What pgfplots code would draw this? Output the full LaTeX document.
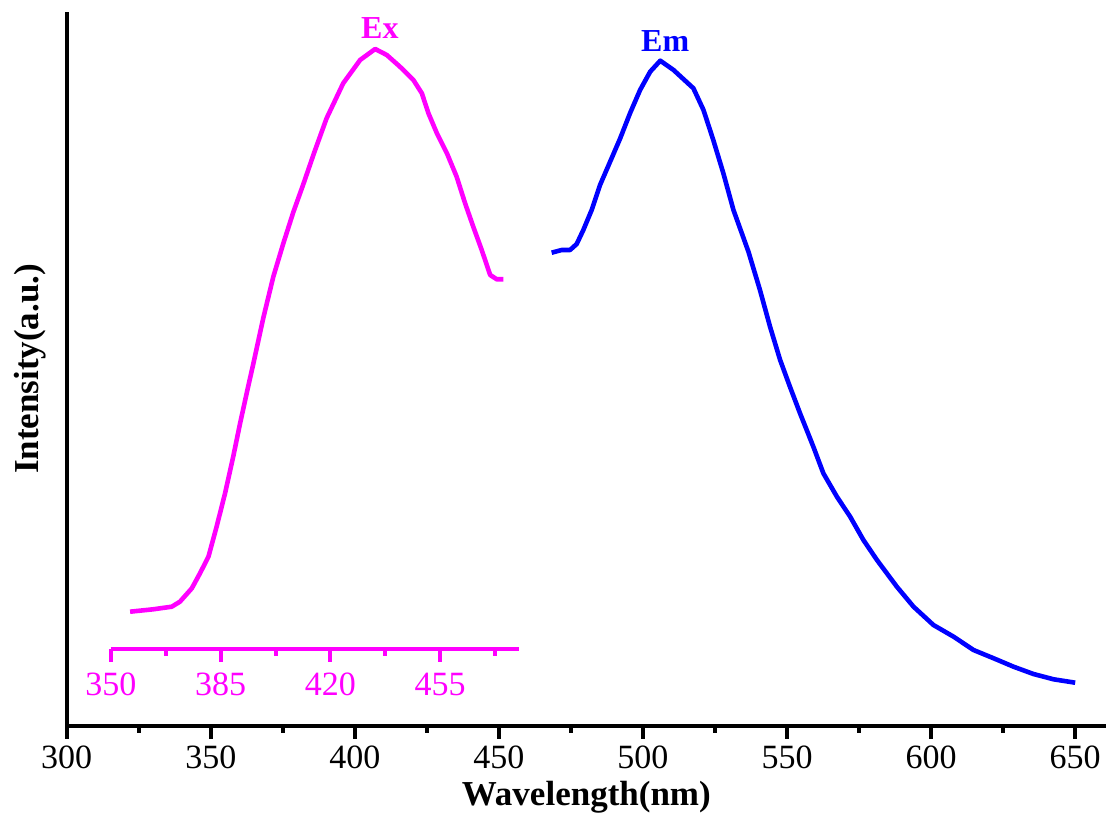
\documentclass[border=0pt]{standalone}
\usepackage{pgfplots}
\pgfplotsset{compat=1.18}
\usetikzlibrary{calc}
\usepackage{fontspec}
\setmainfont{Liberation Serif}
\definecolor{exmag}{RGB}{255,0,255}
\definecolor{emblue}{RGB}{0,0,255}
\begin{document}
\begin{tikzpicture}
\begin{axis}[name=main, scale only axis, width=519.65pt, height=357pt,
 xmin=300, xmax=660.7, ymin=0, ymax=714,
 axis x line=bottom, axis y line=left, axis line style={-, line width=2pt},
 ytick=\empty, xtick={300,350,...,650}, minor xtick={325,375,...,625},
 tick align=outside, major tick length=6.5pt, minor tick length=3.5pt,
 tick style={line width=2pt, black},
 /pgf/number format/assume math mode=true,
 ticklabel style={font=\fontsize{17}{20}\selectfont},
 xlabel={Wavelength(nm)}, ylabel={Intensity(a.u.)},
 label style={font=\fontsize{17.5}{20}\selectfont\bfseries},
 xlabel style={at={(axis description cs:0.5,0)}, anchor=center, yshift=-35.5pt},
 ylabel style={at={(axis description cs:-0.0353,0.5)}, anchor=center},
 clip=false]
\addplot[emblue, line width=2.3pt, line join=round] table {
x y
468.3 473.3
471.8 476
474.7 476
477.0 482
479.3 496
482.2 516
485.1 541
488.6 564.3
492.1 587.7
495.5 612.7
499.0 636
502.5 654.3
506.0 665.3
510.6 656
517.5 637.7
521.0 616
524.4 586
527.9 552.7
531.4 516
536.6 474.3
540.6 436
544.1 399.3
547.6 366
551.0 339.3
554.5 312.7
559.1 279.5
562.6 252.7
567.3 229.3
571.9 209.3
576.5 186
581.2 166
588.1 139.3
593.9 119.3
600.8 101
607.8 89.3
614.7 76
621.7 67.7
628.6 59.3
635.5 52
642.5 46.7
650.0 43.3
};
\node[text=exmag, font=\fontsize{16}{18}\selectfont\bfseries] at (axis cs:408.7,698) {Ex};
\node[text=emblue, font=\fontsize{16}{18}\selectfont\bfseries] at (axis cs:507.7,685) {Em};
\end{axis}
\begin{axis}[at={($(main.south west)+(22.15pt,38.5pt)$)}, anchor=south west,
 scale only axis, width=204pt, height=318.5pt,
 xmin=350, xmax=480.2, ymin=77, ymax=714,
 axis x line=bottom, axis y line=none, ytick=\empty,
 axis line style={-, line width=2pt, exmag},
 xtick={350,385,420,455}, minor xtick={367.5,402.5,437.5,472.5},
 tick align=outside, major tick length=6.5pt, minor tick length=3.5pt,
 tick style={line width=2pt, exmag},
 /pgf/number format/assume math mode=true,
 xticklabel style={text=exmag, font=\fontsize{17}{20}\selectfont, yshift=-2pt},
 clip=false]
\addplot[exmag, line width=2.3pt, line join=round] table {
x y
356.1 114.3
363.5 116.7
369.4 119.3
372.0 124.3
375.8 137.7
378.4 152.7
381.1 169.3
383.7 199.3
386.4 232.7
389.0 269.3
391.2 302.7
393.6 337
395.4 362
398.6 408
401.8 449.3
405.0 482.7
408.2 514
411.4 542
414.8 573
418.8 607.7
424.1 642.7
429.5 666
434.3 677
438.0 671
442.2 659.3
446.5 646
449.2 632.7
451.3 612.7
454.0 592.7
457.2 572.7
460.3 549.3
463.0 522.7
465.6 499.3
468.3 476
471.0 451
473.1 446.7
475.2 446.7
};
\end{axis}
\path ([shift={(-33.35pt,-44pt)}]main.south west) rectangle ([shift={(520.65pt,363pt)}]main.south west);
\end{tikzpicture}
\end{document}
